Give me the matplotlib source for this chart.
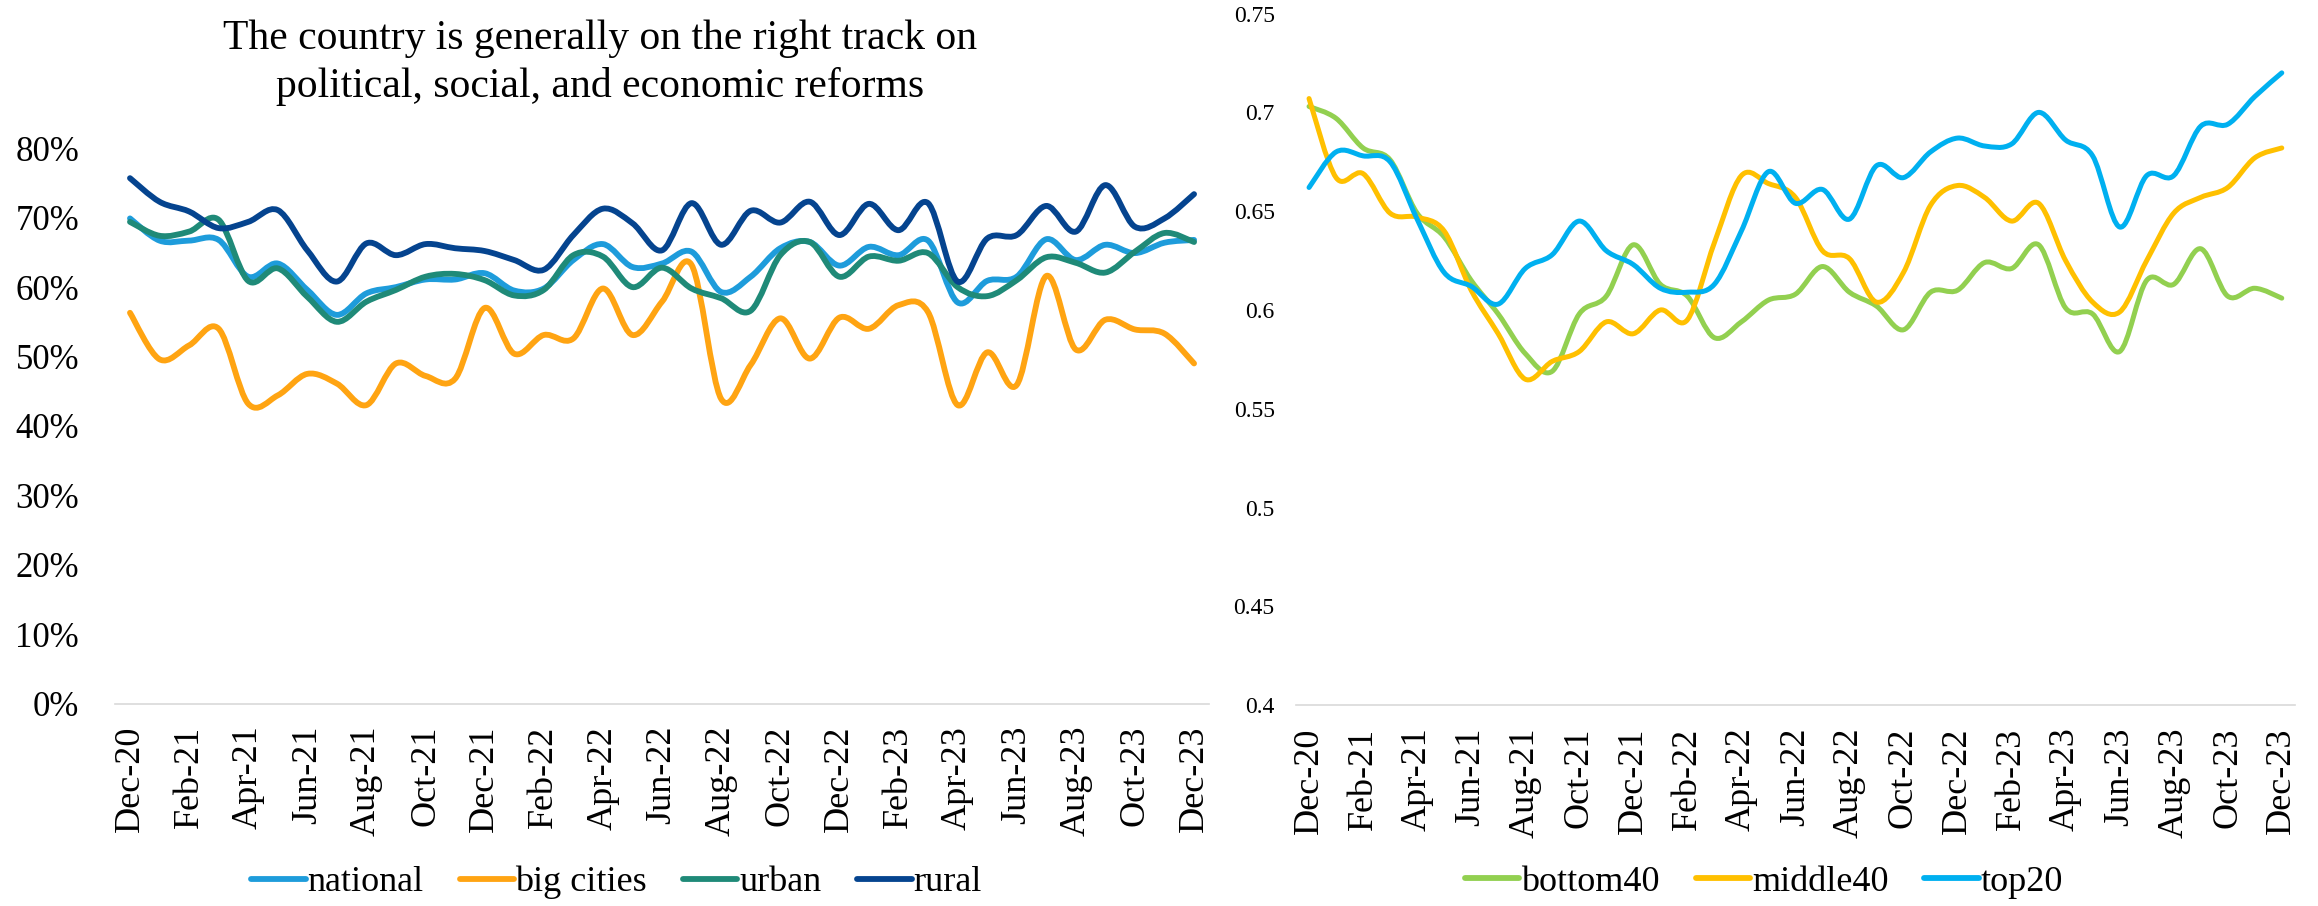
import numpy as np
import matplotlib.pyplot as plt
from matplotlib.path import Path
from matplotlib.patches import PathPatch
from matplotlib.lines import Line2D

plt.rcParams['font.family'] = ['Liberation Serif', 'DejaVu Serif']

# Monthly survey, Dec-20 .. Dec-23 (37 months)
tick_labels = ['Dec-20', 'Feb-21', 'Apr-21', 'Jun-21', 'Aug-21', 'Oct-21', 'Dec-21',
               'Feb-22', 'Apr-22', 'Jun-22', 'Aug-22', 'Oct-22', 'Dec-22',
               'Feb-23', 'Apr-23', 'Jun-23', 'Aug-23', 'Oct-23', 'Dec-23']

# left chart, share (%) saying the country is on the right track
national = [69.9, 66.7, 66.7, 66.8, 61.5, 63.4, 59.6, 56.0, 59.1, 60.0, 61.1, 61.1, 62.0,
            59.5, 59.8, 63.9, 66.2, 62.9, 63.4, 65.1, 59.3, 61.5, 65.6, 66.5, 63.1, 65.8,
            64.6, 66.7, 57.8, 60.9, 61.5, 66.9, 63.9, 66.1, 64.9, 66.4, 66.8]
big_cities = [56.3, 49.6, 51.6, 54.0, 43.2, 44.4, 47.5, 46.1, 43.0, 49.0, 47.2, 46.8, 57.0,
              50.4, 53.1, 52.6, 59.8, 53.1, 57.9, 63.2, 43.9, 48.8, 55.5, 49.7, 55.6, 54.0,
              57.4, 56.4, 43.0, 50.6, 45.9, 61.6, 51.0, 55.3, 53.9, 53.3, 49.0]
urban = [69.4, 67.4, 68.0, 69.7, 60.9, 62.7, 58.6, 55.0, 57.9, 59.6, 61.5, 61.9, 61.0,
         58.8, 59.6, 64.6, 64.4, 60.0, 62.8, 59.8, 58.4, 56.6, 64.6, 66.5, 61.5, 64.4,
         63.8, 64.9, 60.0, 58.7, 61.0, 64.3, 63.5, 62.1, 65.1, 67.8, 66.5]
rural = [75.7, 72.3, 70.9, 68.5, 69.4, 71.1, 65.3, 60.8, 66.3, 64.6, 66.2, 65.6, 65.2,
         63.9, 62.5, 67.5, 71.3, 69.2, 65.3, 72.1, 66.1, 71.0, 69.3, 72.3, 67.5, 72.0,
         68.2, 72.1, 60.8, 67.0, 67.5, 71.7, 68.0, 74.7, 68.7, 69.9, 73.4]

# right chart, by income group
bottom40 = [0.703, 0.697, 0.682, 0.676, 0.649, 0.637, 0.615, 0.598, 0.578, 0.569, 0.598,
            0.607, 0.633, 0.613, 0.607, 0.586, 0.594, 0.605, 0.608, 0.622, 0.609, 0.602,
            0.590, 0.609, 0.610, 0.624, 0.621, 0.633, 0.601, 0.598, 0.579, 0.615, 0.613,
            0.631, 0.607, 0.611, 0.606]
middle40 = [0.707, 0.667, 0.669, 0.649, 0.647, 0.640, 0.610, 0.588, 0.565, 0.574, 0.579,
            0.594, 0.588, 0.600, 0.595, 0.634, 0.668, 0.664, 0.657, 0.630, 0.626, 0.604,
            0.619, 0.653, 0.663, 0.657, 0.645, 0.654, 0.625, 0.604, 0.599, 0.625, 0.649,
            0.657, 0.662, 0.677, 0.682]
top20 = [0.662, 0.680, 0.678, 0.675, 0.646, 0.619, 0.612, 0.603, 0.621, 0.628, 0.645,
         0.630, 0.623, 0.611, 0.609, 0.613, 0.640, 0.670, 0.654, 0.661, 0.646, 0.673,
         0.667, 0.680, 0.687, 0.683, 0.684, 0.700, 0.686, 0.678, 0.642, 0.668, 0.668,
         0.693, 0.694, 0.708, 0.720]


def smooth_path(y):
    # excel-like smoothed line: cubic bezier through every point
    pts = np.column_stack([np.arange(len(y), dtype=float), np.asarray(y, dtype=float)])
    ext = np.vstack([pts[0], pts, pts[-1]])
    verts = [pts[0]]
    codes = [Path.MOVETO]
    for i in range(len(pts) - 1):
        p_prev, p0, p1, p_next = ext[i], ext[i + 1], ext[i + 2], ext[i + 3]
        verts += [p0 + (p1 - p_prev) / 6, p1 - (p_next - p0) / 6, p1]
        codes += [Path.CURVE4] * 3
    return Path(verts, codes)


def draw_series(ax, y, color, lw):
    ax.add_patch(PathPatch(smooth_path(y), fill=False, edgecolor=color, lw=lw,
                           capstyle='round', joinstyle='round'))


def style_axis(ax):
    for s in ['top', 'left', 'right']:
        ax.spines[s].set_visible(False)
    ax.spines['bottom'].set_color('#D9D9D9')
    ax.spines['bottom'].set_linewidth(1.2)
    ax.set_xlim(-0.5, len(national) - 0.5)
    ax.set_xticks(np.arange(0, len(national), 2))
    ax.set_xticklabels(tick_labels, rotation=90, fontsize=26)
    ax.tick_params(axis='x', length=0, pad=16)


fig = plt.figure(figsize=(23.18, 9.06), dpi=100)

# left panel
ax1 = fig.add_axes([0.0497, 0.2235, 0.4718, 0.6128])
style_axis(ax1)
left_series = [(national, '#1E9CDB', 'national'), (big_cities, '#FFA412', 'big cities'),
               (urban, '#1F8A78', 'urban'), (rural, '#05448F', 'rural')]
for vals, col, _ in left_series:
    draw_series(ax1, vals, col, 4.2)
ax1.set_ylim(0, 80)
ax1.set_yticks(np.arange(0, 81, 10))
ax1.set_yticklabels([f'{v}%' for v in range(0, 81, 10)], fontsize=25)
ax1.tick_params(axis='y', length=0, pad=26)

fig.text(0.259, 0.979, 'The country is generally on the right track on\n'
         'political, social, and economic reforms',
         ha='center', va='top', fontsize=30, linespacing=1.32)

fig.legend([Line2D([], [], color=c, lw=4.2, solid_capstyle='round') for _, c, _ in left_series],
           [n for _, _, n in left_series], loc='center', bbox_to_anchor=(0.266, 0.026),
           ncol=4, frameon=False, fontsize=26, handlelength=1.5, handletextpad=0.05,
           columnspacing=1.0, borderpad=0)

# right panel
ax2 = fig.add_axes([0.5589, 0.2216, 0.4313, 0.7634])
style_axis(ax2)
right_series = [(bottom40, '#92D050', 'bottom40'), (middle40, '#FFC000', 'middle40'),
                (top20, '#00B0F0', 'top20')]
for vals, col, _ in right_series:
    draw_series(ax2, vals, col, 3.6)
ax2.set_ylim(0.4, 0.75)
yt = np.round(np.arange(0.4, 0.751, 0.05), 2)
ax2.set_yticks(yt)
ax2.set_yticklabels([f'{v:g}' for v in yt], fontsize=17)
ax2.tick_params(axis='y', length=0, pad=15)

fig.legend([Line2D([], [], color=c, lw=4.2, solid_capstyle='round') for _, c, _ in right_series],
           [n for _, _, n in right_series], loc='center', bbox_to_anchor=(0.761, 0.026),
           ncol=3, frameon=False, fontsize=26, handlelength=1.5, handletextpad=0.05,
           columnspacing=1.0, borderpad=0)

fig.savefig('out.png', dpi=100)
